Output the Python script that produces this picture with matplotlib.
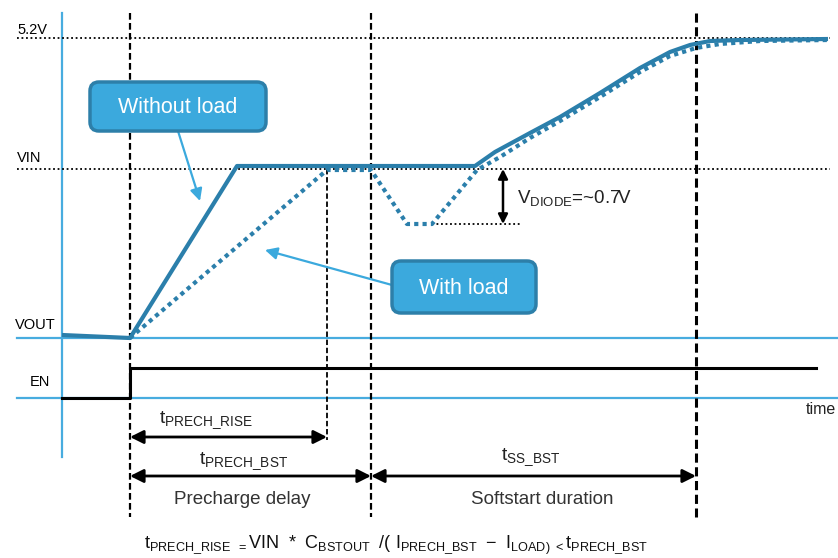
import matplotlib
matplotlib.use("Agg")
import matplotlib.pyplot as plt
from matplotlib.patches import FancyBboxPatch

plt.rcParams['font.family'] = ['Liberation Sans', 'DejaVu Sans']
plt.rcParams['mathtext.fontset'] = 'custom'
plt.rcParams['mathtext.rm'] = 'Liberation Sans'

# diagram units: x = time (px), y = level (px, top = 0)
level_names = ["5.2V", "VIN", "VOUT", "EN"]
y_52v = 38
y_vin = 169
y_vout = 338
y_en = 398
y_diode = 224

t_en = 130
t_rise = 327
t_prech = 371
t_ss = 696

# VOUT without load (solid)
t_noload = [62, 130, 237, 475, 495, 530, 560, 600, 640, 670, 690, 710, 740, 828]
v_noload = [335, 338, 166, 166, 152, 133, 117, 93, 68, 52, 45, 41, 40, 39]

# VOUT with load (dotted)
t_load = [130, 327, 371, 407, 432, 477, 500, 530, 560, 600, 640, 670, 696, 720, 760, 828]
v_load = [338, 170, 170, 224, 224, 170, 157, 138, 121, 97, 72, 56, 48, 44, 41, 40]

# EN signal
t_ensig = [62, 130, 130, 816]
v_ensig = [398, 398, 368, 368]

curve_c = '#2b7fab'
axis_c = '#48acdf'
box_c = '#3ba9dd'
box_edge = '#2d7fa9'

fig = plt.figure(figsize=(8.38, 5.58), dpi=100)
ax = fig.add_axes([0, 0, 1, 1])
ax.set_xlim(0, 838)
ax.set_ylim(558, 0)
ax.axis('off')

# axes
ax.plot([62, 62], [13, 457], color=axis_c, lw=1.6)
ax.plot([17, 838], [y_vout, y_vout], color=axis_c, lw=1.6)
ax.plot([17, 838], [y_en, y_en], color=axis_c, lw=1.6)

# reference levels
ax.plot([17, 830], [y_52v, y_52v], color='black', lw=1.3, ls=(0, (1, 1.5)))
ax.plot([17, 830], [y_vin, y_vin], color='black', lw=1.3, ls=(0, (1, 1.5)))
ax.plot([432, 520], [y_diode, y_diode], color='black', lw=1.3, ls=(0, (1, 1.5)))

# time markers
for x, lw in [(t_en, 1.6), (t_prech, 1.6), (t_ss, 2.2)]:
    ax.plot([x, x], [13, 517], color='black', lw=lw, ls=(0, (3, 1.5)))
ax.plot([t_rise, t_rise], [y_vin, 440], color='black', lw=1.3, ls=(0, (3, 1.5)))

# signals
ax.plot(t_noload, v_noload, color=curve_c, lw=3, solid_capstyle='butt', zorder=4)
ax.plot(t_load, v_load, color=curve_c, lw=3, ls=(0, (1, 1)), zorder=4)
ax.plot(t_ensig, v_ensig, color='black', lw=2.2, zorder=4)

# level labels
ax.text(17, 30, level_names[0], fontsize=10.5, va='center', ha='left')
ax.text(17, 158, level_names[1], fontsize=10.5, va='center', ha='left')
ax.text(15, 325, level_names[2], fontsize=10.5, va='center', ha='left')
ax.text(30, 382, level_names[3], fontsize=10.5, va='center', ha='left')
ax.text(806, 410, "time", fontsize=11.5, va='center', ha='left', color='#222222')

# V diode
ax.annotate('', xy=(503, y_diode), xytext=(503, y_vin),
            arrowprops=dict(arrowstyle='<|-|>', color='black', lw=1.8, mutation_scale=14,
                            shrinkA=0, shrinkB=0))
ax.text(517, 198, r"$\mathregular{V_{DIODE}}$=~0.7V", fontsize=13.5, va='center', ha='left',
        color='#222222')

# timing arrows
def span(x0, x1, y):
    ax.annotate('', xy=(x1, y), xytext=(x0, y),
                arrowprops=dict(arrowstyle='<|-|>', color='black', lw=2, mutation_scale=20,
                                shrinkA=0, shrinkB=0))

span(t_en, t_rise, 437)
span(t_en, t_prech, 476)
span(t_prech, t_ss, 476)

ax.text(206, 420, r"$\mathregular{t_{PRECH\_RISE}}$", fontsize=14, ha='center', va='center',
        color='#222222')
ax.text(244, 461, r"$\mathregular{t_{PRECH\_BST}}$", fontsize=14, ha='center', va='center',
        color='#222222')
ax.text(531, 457, r"$\mathregular{t_{SS\_BST}}$", fontsize=14, ha='center', va='center',
        color='#222222')
ax.text(242, 500, "Precharge delay", fontsize=13.5, ha='center', va='center', color='#333333')
ax.text(542, 500, "Softstart duration", fontsize=13.5, ha='center', va='center', color='#333333')

# formula
ax.text(396, 545,
        r"$\mathregular{t_{PRECH\_RISE}\ {}_{=}VIN\ *\ C_{BSTOUT}\ \,/(\ I_{PRECH\_BST}\ -\ I_{LOAD)}\,{}_{<}t_{PRECH\_BST}}$",
        fontsize=13, ha='center', va='center', color='#111111')

# callouts
def callout(x0, y0, x1, y1, label):
    box = FancyBboxPatch((x0 + 5, y0 + 5), x1 - x0 - 10, y1 - y0 - 10,
                         boxstyle='round,pad=5,rounding_size=9',
                         facecolor=box_c, edgecolor=box_edge, lw=2.5, zorder=5)
    ax.add_patch(box)
    ax.text((x0 + x1) / 2, (y0 + y1) / 2 + 1, label, fontsize=15.5, color='white',
            ha='center', va='center', zorder=6)

ax.annotate('', xy=(200, 201), xytext=(178, 131),
            arrowprops=dict(arrowstyle='-|>', color=box_c, lw=1.6, mutation_scale=18,
                            shrinkA=0, shrinkB=0))
ax.annotate('', xy=(265, 250), xytext=(392, 285),
            arrowprops=dict(arrowstyle='-|>', color=box_c, lw=1.6, mutation_scale=18,
                            shrinkA=0, shrinkB=0))
callout(90, 82, 266, 131, "Without load")
callout(392, 261, 536, 313, "With load")

fig.savefig("out.png", dpi=100)
